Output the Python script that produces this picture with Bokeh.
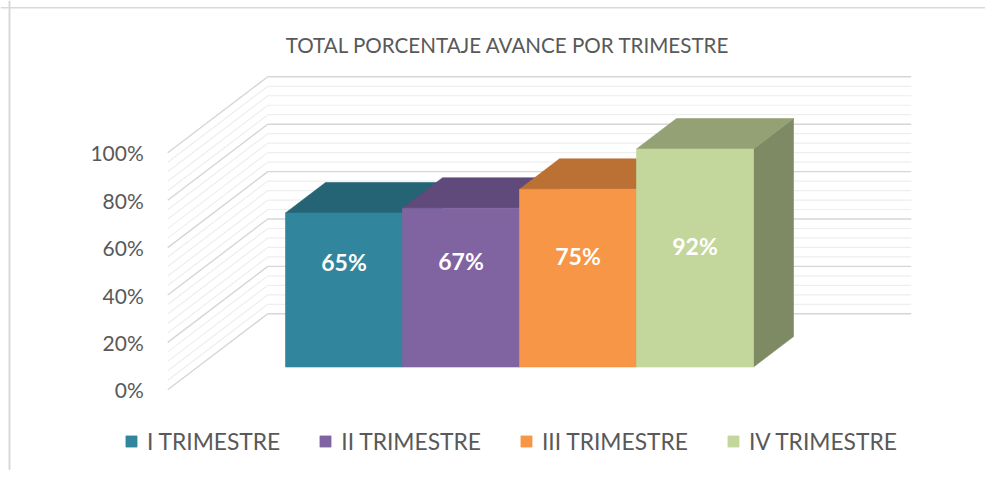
from bokeh.plotting import figure
from bokeh.models import Range1d, Legend, LegendItem, Span, Label
from bokeh.core.properties import value
from bokeh.embed import file_html
from bokeh.resources import INLINE

# ---------------- data ----------------
title_text = "TOTAL PORCENTAJE AVANCE POR TRIMESTRE"
trimestres = ["I TRIMESTRE", "II TRIMESTRE", "III TRIMESTRE", "IV TRIMESTRE"]
avance = [65, 67, 75, 92]          # percent
bar_labels = ["65%", "67%", "75%", "92%"]
y_ticks = [0, 20, 40, 60, 80, 100]
y_tick_labels = ["0%", "20%", "40%", "60%", "80%", "100%"]
minor_step = 4
front_colors = ["#31859C", "#8064A2", "#F79646", "#C3D69B"]
top_colors = ["#256474", "#604A7B", "#BC7134", "#93A174"]
side_colors = ["#205664", "#534168", "#9F612D", "#7E8A64"]

# ---------------- layout constants ----------------
W, H = 985, 470
PAGE_X0, PAGE_Y0 = 0, 0        # canvas origin as seen in the screenshot
OX, OY = 255.0, 389.3          # pixel of (x=0, y=0) on the front plane
PX_PER_X = 117.0               # pixels per bar width
PX_PER_Y = 2.37                # pixels per percent
DEPTH_DX, DEPTH_DY = 100.0, 76.0  # pixel shift from front plane to back wall
GAP = 0.75                     # floor margin each side (bar widths)
BAR_Z = (0.3, 0.7)             # bar depth span (fraction of depth)
TEXT = "#595959"
FONT = "Lato"

x_range = Range1d((PAGE_X0 - OX) / PX_PER_X, (PAGE_X0 + W - OX) / PX_PER_X)
y_range = Range1d((OY - (PAGE_Y0 + H)) / PX_PER_Y, (OY - PAGE_Y0) / PX_PER_Y)


def proj(x, y, z):
    return x + z * DEPTH_DX / PX_PER_X, y + z * DEPTH_DY / PX_PER_Y


def px_to_x(px):
    return (px - OX) / PX_PER_X


def px_to_y(py):
    return (OY - py) / PX_PER_Y


p = figure(width=W, height=H, x_range=x_range, y_range=y_range,
           output_backend="svg", toolbar_location=None,
           x_axis_type=None, y_axis_type=None, min_border=0)
p.grid.visible = False
p.outline_line_color = None
p.background_fill_color = "white"
p.border_fill_color = "white"

n = len(avance)
xL, xR = -GAP, n + GAP

# ---------------- walls gridlines ----------------
grid_vals = list(range(y_ticks[0], y_ticks[-1] + 1, minor_step))
maj_xs, maj_ys, min_xs, min_ys = [], [], [], []
for g in grid_vals:
    a = proj(xL, g, 0)
    b = proj(xL, g, 1)
    c = proj(xR, g, 1)
    xs_side, ys_side = [a[0], b[0]], [a[1], b[1]]
    xs_back, ys_back = [b[0], c[0]], [b[1], c[1]]
    if g in y_ticks:
        maj_xs += [xs_side, xs_back]
        maj_ys += [ys_side, ys_back]
    else:
        min_xs += [xs_side, xs_back]
        min_ys += [ys_side, ys_back]
p.multi_line(min_xs, min_ys, line_color="#EEEEEE", line_width=1.2)
p.multi_line(maj_xs, maj_ys, line_color="#D6D6D6", line_width=1.4)

# ---------------- bars ----------------
z0, z1 = BAR_Z
legend_items = []
for i, v in enumerate(avance):
    x0, x1 = i, i + 1
    faces = {
        "side": [(x1, 0, z0), (x1, 0, z1), (x1, v, z1), (x1, v, z0)],
        "top": [(x0, v, z0), (x1, v, z0), (x1, v, z1), (x0, v, z1)],
        "front": [(x0, 0, z0), (x1, 0, z0), (x1, v, z0), (x0, v, z0)],
    }
    cols = {"side": side_colors[i], "top": top_colors[i], "front": front_colors[i]}
    for name in ["side", "top", "front"]:
        pts = [proj(*pt) for pt in faces[name]]
        r = p.patch([q[0] for q in pts], [q[1] for q in pts],
                    fill_color=cols[name], line_color=cols[name], line_width=0.6)
        if name == "front":
            legend_items.append(LegendItem(label=trimestres[i], renderers=[r]))

# ---------------- bar value labels ----------------
lx, ly = [], []
for i, v in enumerate(avance):
    q = proj(i + 0.5, 0.25 * v + 28, z0)
    lx.append(q[0])
    ly.append(q[1])
p.text(x=lx, y=ly, text=bar_labels, text_color="white",
       text_font=value(FONT), text_font_style="bold", text_font_size="23px",
       text_align="center", text_baseline="middle")

# ---------------- value axis labels ----------------
tx, ty = [], []
for t in y_ticks:
    q = proj(xL, t, 0)
    tx.append(q[0])
    ty.append(q[1])
p.text(x=tx, y=ty, text=y_tick_labels, x_offset=-24, text_color=TEXT,
       text_font=value(FONT), text_font_size="21px",
       text_align="right", text_baseline="middle")

# ---------------- title ----------------
p.add_layout(Label(x=px_to_x(507.5), y=px_to_y(44),
                   text=title_text, text_align="center", text_baseline="middle",
                   text_font=FONT, text_font_size="20.6px", text_color=TEXT))

# ---------------- chart border ----------------
p.add_layout(Span(location=px_to_x(9), dimension="height",
                  line_color="#D9D9D9", line_width=2))
p.add_layout(Span(location=px_to_y(7.3), dimension="width",
                  line_color="#D9D9D9", line_width=1.5))

# ---------------- legend ----------------
legend = Legend(items=legend_items, orientation="horizontal", location=(124, H - 455),
                glyph_width=14, glyph_height=14, label_standoff=9, spacing=38,
                padding=0, margin=0, border_line_color=None,
                background_fill_alpha=0, label_text_font=FONT,
                label_text_font_size="22.8px", label_text_color=TEXT)
p.add_layout(legend)

open("out.html", "w").write(file_html(p, INLINE))
